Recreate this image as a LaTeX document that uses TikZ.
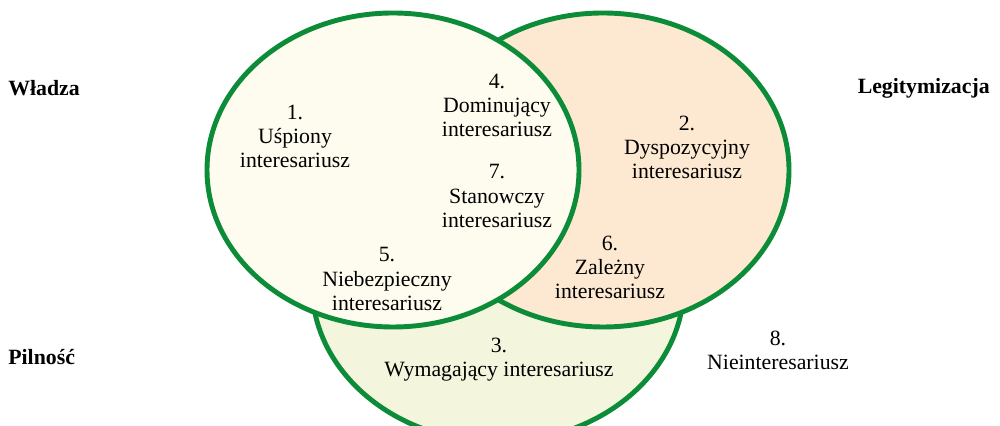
\documentclass[tikz,border=0pt]{standalone}
\usepackage{fontspec}
\setmainfont{Liberation Serif}
\usepackage{tikz}
\usetikzlibrary{positioning}

\definecolor{vennline}{RGB}{12,140,56}
\definecolor{fillpower}{RGB}{254,252,238}
\definecolor{filllegit}{RGB}{253,233,210}
\definecolor{fillurgent}{RGB}{243,245,220}

\tikzset{
  circ/.style={draw=vennline, line width=2.8pt},
  lbl/.style={draw=none, align=center, inner sep=0pt, font=\fontsize{12.4}{13.7}\selectfont},
  attr/.style={draw=none, inner sep=0pt, font=\fontsize{12.4}{13.7}\selectfont\bfseries}
}

\begin{document}
\begin{tikzpicture}[]

\def \yrow{5.12cm}
\def \rx{3.72cm}
\def \ry{3.14cm}

\def \xpower{7.86cm}  % Wladza
\def \xlegit{12.06cm} % Legitymizacja
\def \xurgent{9.96cm} % Pilnosc
\def \yurgent{2.82cm}

\useasboundingbox (0cm, 0cm) rectangle (20cm, 8.52cm);
\clip (0cm, 0cm) rectangle (20cm, 8.52cm);

% ellipses from back to front
\draw[circ, fill=fillurgent] (\xurgent, \yurgent) ellipse [x radius=\rx, y radius=\ry];
\draw[circ, fill=filllegit]  (\xlegit,  \yrow)    ellipse [x radius=\rx, y radius=\ry];
\draw[circ, fill=fillpower]  (\xpower,  \yrow)    ellipse [x radius=\rx, y radius=\ry];

% attributes
\node[attr, anchor=west] (power)  at (0.16cm, 6.76cm) {Władza};
\node[attr, anchor=east] (legit)  at (19.8cm, 6.76cm) {Legitymizacja};
\node[attr, anchor=west] (urgent) at (0.16cm, 1.38cm) {Pilność};

% stakeholder classes from 1 to 8
\node[lbl] (dormant)       at (5.90cm, 5.80cm)  {1.\\Uśpiony\\interesariusz};
\node[lbl] (discretionary) at (13.74cm, 5.58cm) {2.\\Dyspozycyjny\\interesariusz};
\node[lbl] (demanding)     at (9.98cm, 1.33cm)  {3.\\Wymagający interesariusz};
\node[lbl] (dominant)      at (9.94cm, 6.41cm)  {4.\\Dominujący\\interesariusz};
\node[lbl] (dangerous)     at (7.74cm, 2.94cm)  {5.\\Niebezpieczny\\interesariusz};
\node[lbl] (dependent)     at (12.20cm, 3.18cm) {6.\\Zależny\\interesariusz};
\node[lbl] (definitive)    at (9.94cm, 4.60cm)  {7.\\Stanowczy\\interesariusz};
\node[lbl] (nonstake)      at (15.56cm, 1.51cm) {8.\\Nieinteresariusz};

\end{tikzpicture}
\end{document}
